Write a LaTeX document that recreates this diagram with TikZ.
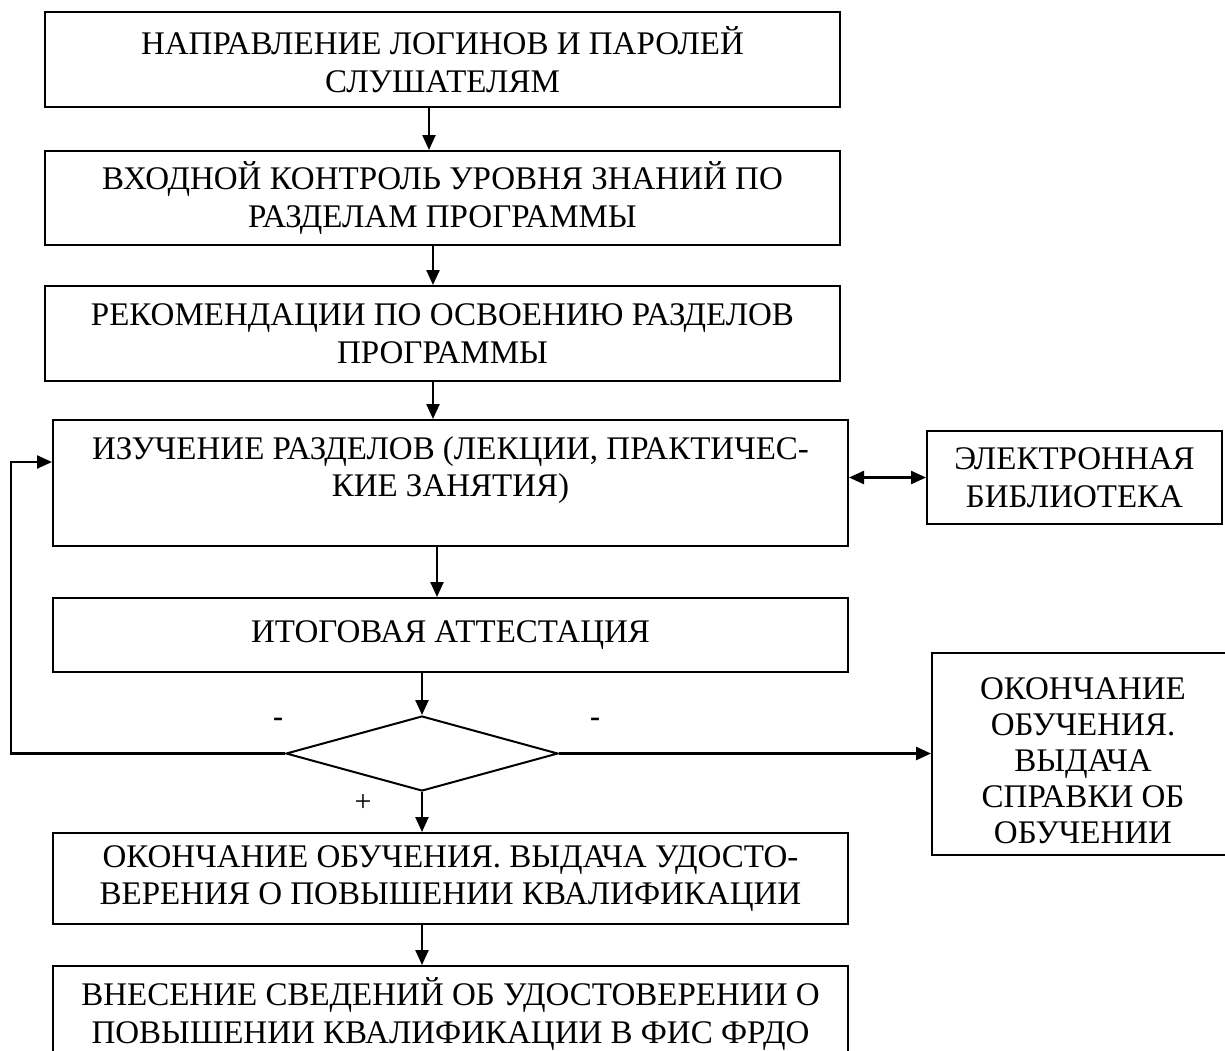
\documentclass[tikz,border=0pt]{standalone}
\usepackage{fontspec}
\setmainfont{Liberation Serif}
\usetikzlibrary{arrows.meta,shapes.geometric,calc}
\begin{document}
\begin{tikzpicture}[x=1pt,y=-1pt,
  box/.style={draw,line width=2pt,inner sep=0pt,align=center,font=\fontsize{33}{37.5}\selectfont},
  txt/.style={inner sep=0pt,align=center,font=\fontsize{33}{37.5}\selectfont},
  arr/.style={line width=2.4pt,-{Triangle[length=15pt,width=13pt]}},
  darr/.style={line width=2.4pt,{Triangle[length=15pt,width=13pt]}-{Triangle[length=15pt,width=13pt]}},
  sign/.style={inner sep=0pt,font=\fontsize{30}{30}\selectfont\bfseries}]
\useasboundingbox (0,0) rectangle (1225,1050);
\clip (0,0) rectangle (1225,1050);
\node[box,minimum width=795,minimum height=95] (b1) at (442.5,59.5)
  {НАПРАВЛЕНИЕ ЛОГИНОВ И ПАРОЛЕЙ\\СЛУШАТЕЛЯМ};
\node[box,minimum width=795,minimum height=94] (b2) at (442.5,198)
  {ВХОДНОЙ КОНТРОЛЬ УРОВНЯ ЗНАНИЙ ПО\\РАЗДЕЛАМ ПРОГРАММЫ};
\node[box,minimum width=795,minimum height=95] (b3) at (442.5,333.5)
  {РЕКОМЕНДАЦИИ ПО ОСВОЕНИЮ РАЗДЕЛОВ\\ПРОГРАММЫ};
\node[box,minimum width=795,minimum height=126] (b4) at (450.5,483) {};
\node[txt] (b4t) at ([yshift=13pt]b4.center)
  {ИЗУЧЕНИЕ РАЗДЕЛОВ (ЛЕКЦИИ, ПРАКТИЧЕС-\\КИЕ ЗАНЯТИЯ)};
\node[box,minimum width=295,minimum height=93] (lib) at (1074.5,477.5)
  {ЭЛЕКТРОННАЯ\\БИБЛИОТЕКА};
\node[box,minimum width=795,minimum height=74] (b5) at (450.5,635)
  {ИТОГОВАЯ АТТЕСТАЦИЯ};
\node[draw,line width=2pt,shape=diamond,aspect=1,inner sep=0pt,
  minimum width=272,minimum height=75] (dia) at (422,753.5) {};
\node[box,minimum width=302,minimum height=202] (rb) at (1083,754) {};
\node[txt,font=\fontsize{33}{36}\selectfont] (rbt) at ([yshift=-7pt]rb.center)
  {ОКОНЧАНИЕ\\ОБУЧЕНИЯ.\\ВЫДАЧА\\СПРАВКИ ОБ\\ОБУЧЕНИИ};
\node[box,minimum width=795,minimum height=91] (b6) at (450.5,878.5)
  {ОКОНЧАНИЕ ОБУЧЕНИЯ. ВЫДАЧА УДОСТО-\\ВЕРЕНИЯ О ПОВЫШЕНИИ КВАЛИФИКАЦИИ};
\node[box,minimum width=795,minimum height=106] (b7) at (450.5,1019) {};
\node[txt] (b7t) at ([yshift=5pt]b7.center)
  {ВНЕСЕНИЕ СВЕДЕНИЙ ОБ УДОСТОВЕРЕНИИ О\\ПОВЫШЕНИИ КВАЛИФИКАЦИИ В ФИС ФРДО};
% connectors
\draw[arr] ([xshift=-13.5pt]b1.south) -- ([xshift=-13.5pt]b2.north);
\draw[arr] ([xshift=-9.5pt]b2.south) -- ([xshift=-9.5pt]b3.north);
\draw[arr] ([xshift=-9.5pt]b3.south) -- ([xshift=-17.5pt]b4.north);
\draw[arr] ([xshift=-13.5pt]b4.south) -- ([xshift=-13.5pt]b5.north);
\draw[darr] (b4.east |- lib.west) -- (lib.west);
\draw[arr] (b5.south -| dia.north) -- (dia.north);
\coordinate (loopc) at (11,462);
\draw[arr] (dia.west) -| (loopc) -- (b4.west |- loopc);
\draw[arr] (dia.east) -- (rb.west |- dia.east);
\draw[arr] (dia.south) -- (dia.south |- b6.north);
\draw[arr] (b6.south -| dia.south) -- (b7.north -| dia.south);
% signs
\node[sign] (m1) at (278,722) {-};
\node[sign] (m2) at (595,722) {-};
\node[txt,font=\fontsize{30}{30}\selectfont] (p1) at (363,803) {+};
\end{tikzpicture}
\end{document}
